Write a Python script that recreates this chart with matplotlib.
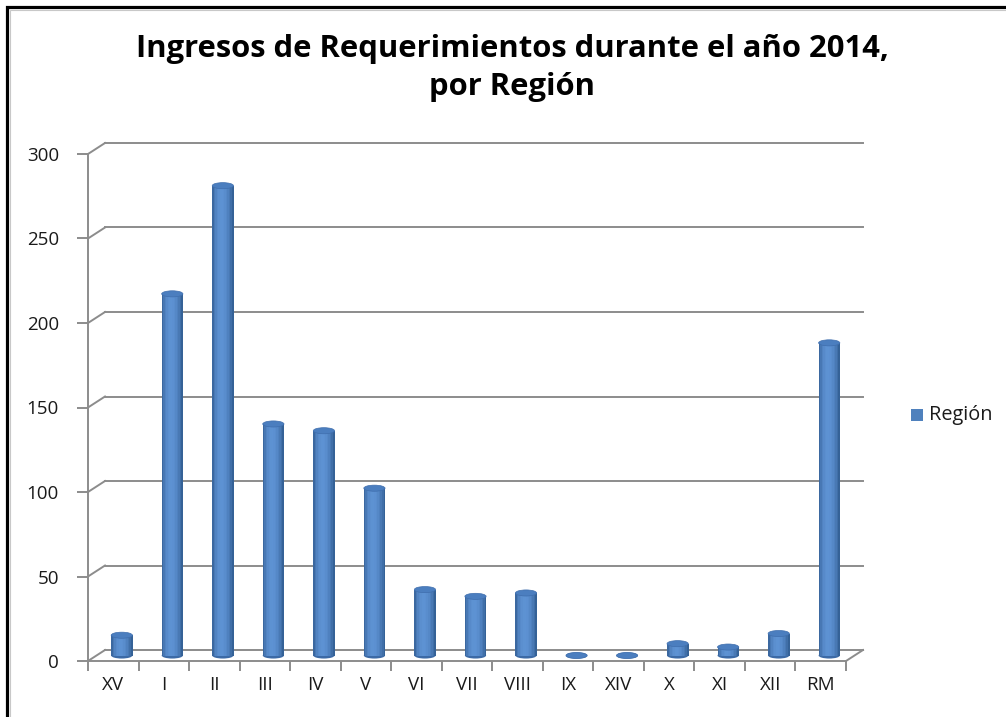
import numpy as np
import matplotlib
matplotlib.use("Agg")
import matplotlib.pyplot as plt
from matplotlib.transforms import ScaledTranslation
from matplotlib.patches import Ellipse, Rectangle
from matplotlib.colors import to_rgb

regiones = ["XV", "I", "II", "III", "IV", "V", "VI", "VII", "VIII",
            "IX", "XIV", "X", "XI", "XII", "RM"]
ingresos = [12, 214, 278, 137, 133, 99, 39, 35, 37, 0, 0, 7, 5, 13, 185]
yticks = [0, 50, 100, 150, 200, 250, 300]

plt.rcParams['font.family'] = ['Open Sans', 'DejaVu Sans']

fig = plt.figure(figsize=(10.06, 7.17), dpi=100)
ax = fig.add_axes([88 / 1006, 56 / 717, 758 / 1006, 507 / 717])
n = len(regiones)
ax.set_xlim(0, n)
ax.set_ylim(0, 300)

grey = '#8c8c8c'
back = ax.transData + ScaledTranslation(17 / 100, 11 / 100, fig.dpi_scale_trans)
mid = ax.transData + ScaledTranslation(8.5 / 100, 5.5 / 100, fig.dpi_scale_trans)

# back wall gridlines and side diagonals
for v in yticks:
    ax.plot([0, n], [v, v], color=grey, lw=1.4, transform=back, zorder=1, clip_on=False)
for v in yticks:
    x0, y0 = ax.transData.transform((0, v))
    x1, y1 = back.transform((0, v))
    ax.plot([x0, x1], [y0, y1], color=grey, lw=1.4, transform=None, zorder=1, clip_on=False)
# floor right edge
x0, y0 = ax.transData.transform((n, 0))
x1, y1 = back.transform((n, 0))
ax.plot([x0, x1], [y0, y1], color=grey, lw=1.4, transform=None, zorder=1, clip_on=False)

# cylinders
dark = np.array(to_rgb('#2c5689'))
light = np.array(to_rgb('#5d92d3'))
w = 0.42
nstrip = 14
for i, v in enumerate(ingresos):
    xc = i + 0.5
    ax.add_patch(Ellipse((xc, 0), w, 3.6, facecolor='#3c6aa6', edgecolor='none',
                         transform=mid, zorder=3, clip_on=False))
    if v > 0:
        dw = w / nstrip
        for k in range(nstrip):
            u = (k + 0.5) / nstrip
            t = np.sin(np.pi * u ** 0.85) ** 0.7
            c = dark + (light - dark) * t
            ax.add_patch(Rectangle((xc - w / 2 + k * dw, 0), dw * 1.25, v,
                                   facecolor=c, edgecolor='none', transform=mid,
                                   zorder=3, clip_on=False))
    ax.add_patch(Ellipse((xc, v), w, 3.6, facecolor='#4b7ebf', edgecolor='#3f6ead',
                         lw=0.5, transform=mid, zorder=4, clip_on=False))

# front axes
for s in ['top', 'right']:
    ax.spines[s].set_visible(False)
for s in ['left', 'bottom']:
    ax.spines[s].set_color(grey)
    ax.spines[s].set_linewidth(1.4)
    ax.spines[s].set_zorder(5)
ax.set_yticks(yticks)
ax.tick_params(axis='y', length=8, width=1.4, color=grey, labelsize=13.5, pad=13,
               labelcolor='#1a1a1a')
ax.set_xticks(np.arange(n + 1))
ax.set_xticklabels([])
ax.tick_params(axis='x', which='major', length=7, width=1.4, color=grey)
ax.set_xticks(np.arange(n) + 0.5, minor=True)
ax.set_xticklabels(regiones, minor=True)
ax.tick_params(axis='x', which='minor', length=0, labelsize=13.5, pad=11,
               labelcolor='#1a1a1a')
ax.patch.set_visible(False)

fig.text(0.509, 0.905, "Ingresos de Requerimientos durante el año 2014,\npor Región",
         ha='center', va='center', fontsize=22.3, fontweight='bold', linespacing=1.38)

# legend
fig.patches.append(Rectangle((911 / 1006, 1 - 421 / 717), 12 / 1006, 12 / 717,
                             facecolor='#4f81bd', edgecolor='none',
                             transform=fig.transFigure))
fig.text(929 / 1006, 1 - 415 / 717, "Región", ha='left', va='center', fontsize=14.3,
         color='#1a1a1a')

# outer frame
fig.patches.append(Rectangle((7 / 1006, -0.1), 1.2, 1 - 7 / 717 + 0.1, fill=False,
                             edgecolor='black', lw=2.3, transform=fig.transFigure))
fig.patches.append(Rectangle((10 / 1006, -0.1), 1.2, 1 - 10 / 717 + 0.1, fill=False,
                             edgecolor='#c8c8c8', lw=0.8, transform=fig.transFigure))

fig.savefig("out.png", dpi=100)
